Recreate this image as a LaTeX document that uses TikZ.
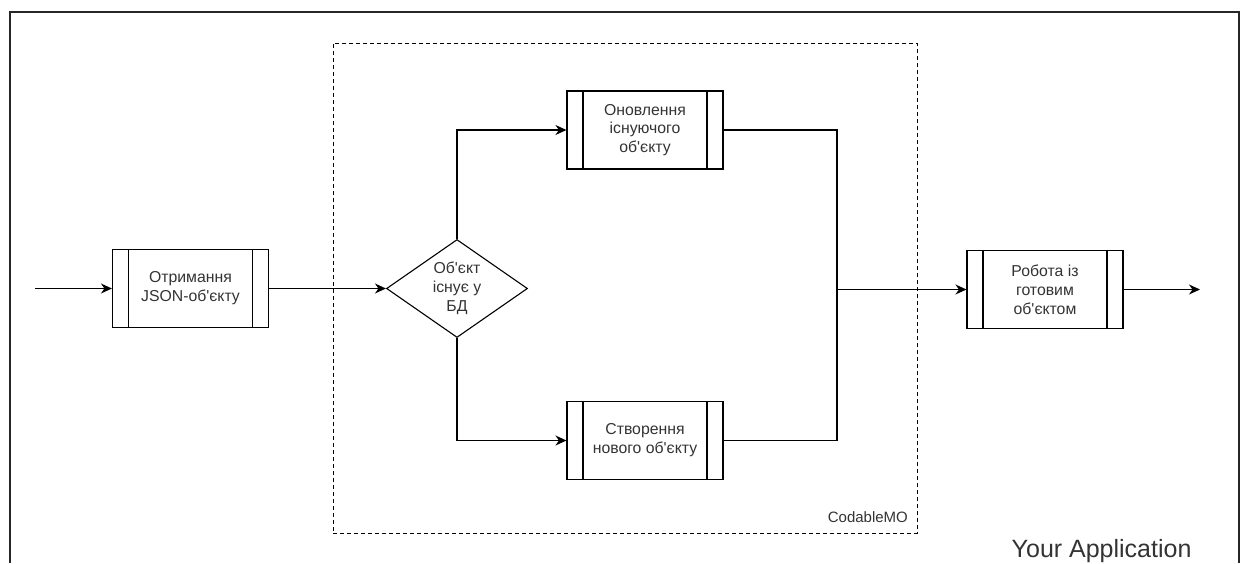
\documentclass[tikz,border=0pt]{standalone}
\usepackage{fontspec}
\setmainfont{Liberation Sans}
\usetikzlibrary{shapes.geometric,arrows.meta}

% straight apostrophe used in the Ukrainian labels
\newcommand{\apostr}{\textquotesingle}

\begin{document}
\begin{tikzpicture}[
    x=1pt, y=-1pt,
    txt/.style={text=black!80, font=\fontsize{15.8}{18.8}\selectfont, align=center},
    proc/.style={txt, draw, line width=1.1pt, minimum width=156pt, minimum height=78pt, inner sep=0pt,
      path picture={
        \draw[line width=1.1pt] ([xshift=16pt]path picture bounding box.north west) -- ([xshift=16pt]path picture bounding box.south west);
        \draw[line width=1.1pt] ([xshift=-16pt]path picture bounding box.north east) -- ([xshift=-16pt]path picture bounding box.south east);
      }},
    decision/.style={txt, draw, line width=1.1pt, diamond, aspect=1.44, inner sep=0pt,
      minimum width=141pt, minimum height=98pt},
    container/.style={draw, line width=0.9pt, dash pattern=on 4pt off 3pt},
    wire/.style={draw, line width=1.3pt},
    flow/.style={wire, -{Stealth[length=11pt, width=10pt, inset=3.5pt]}},
  ]
  \useasboundingbox (0,0) rectangle (1243,563);

  % application frame (open at the bottom)
  \draw[line width=1.5pt, black!85] (10,563) -- (10,12) -- (1239,12) -- (1239,563);

  % CodableMO module
  \node[container, minimum width=584pt, minimum height=490pt] (cmo) at (625,288) {};
  \node[txt, font=\fontsize{15}{18}\selectfont, anchor=base east] (cmolabel)
    at ([xshift=-6pt, yshift=11pt]cmo.south east) {CodableMO};

  \node[txt, font=\fontsize{25}{30}\selectfont, anchor=base east] (applabel)
    at (1195,557) {Your Application};

  % process steps
  \node[proc] (get)  at (190.5,288.5) {Отримання\\JSON-об\apostr{}єкту};
  \node[decision] (chk) at (457,288.5) {Об\apostr{}єкт\\існує у\\БД};
  \node[proc] (upd)  at (645,130) {Оновлення\\існуючого\\об\apostr{}єкту};
  \node[proc] (new)  at (645,440.5) {Створення\\нового об\apostr{}єкту};
  \node[proc] (work) at (1045,289.5) {Робота із\\готовим\\об\apostr{}єктом};

  \coordinate (in)  at (35,288.5);
  \coordinate (out) at (1200,289.5);
  \coordinate (join) at (837,289.5);

  % connectors
  \draw[flow] (in) -- (get.west);
  \draw[flow] (get.east) -- (chk.west);
  \draw[flow] (chk.north) |- (upd.west);
  \draw[flow] (chk.south) |- (new.west);
  \draw[wire] (upd.east) -- (upd.east -| join) -- (new.east -| join) -- (new.east);
  \draw[flow] (join) -- (work.west);
  \draw[flow] (work.east) -- (out);
\end{tikzpicture}
\end{document}
